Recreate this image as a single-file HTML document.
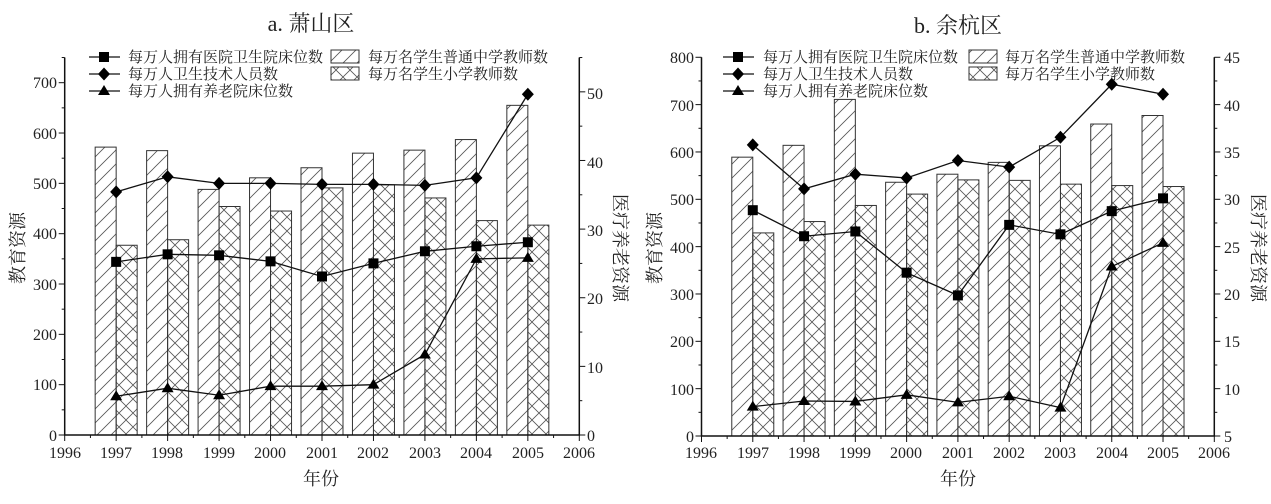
<!DOCTYPE html>
<html><head><meta charset="utf-8"><style>
body{margin:0;background:#fff}
svg text{font-family:"Liberation Serif","Noto Serif CJK SC","Noto Sans CJK SC",serif;fill:#222}
.t{font-size:16px}.c{font-size:15px;font-family:"Noto Serif CJK SC","Noto Sans CJK SC",serif}
</style></head><body>
<svg id="s" width="1271" height="499" xmlns="http://www.w3.org/2000/svg">
<defs>
<pattern id="sl" patternUnits="userSpaceOnUse" width="14" height="14"><path d="M-2,16 L16,-2 M-2,2 L2,-2 M12,16 L16,12" stroke="#555" stroke-width="0.8"/></pattern>
<pattern id="cr" patternUnits="userSpaceOnUse" width="14" height="14"><path d="M0,0 L14,14 M14,0 L0,14" stroke="#555" stroke-width="0.8"/></pattern>
</defs>
<g id="g"></g>
<!-- panel a text -->
<text x="311" y="31" text-anchor="middle" style="font-size:22px">a. 萧山区</text>
<g class="t" text-anchor="end">
<text x="57" y="441">0</text><text x="57" y="390">100</text><text x="57" y="340">200</text><text x="57" y="290">300</text><text x="57" y="239">400</text><text x="57" y="189">500</text><text x="57" y="139">600</text><text x="57" y="88">700</text>
</g>
<g class="t">
<text x="587" y="441">0</text><text x="587" y="373">10</text><text x="587" y="304">20</text><text x="587" y="236">30</text><text x="587" y="168">40</text><text x="587" y="99">50</text>
</g>
<g class="t" text-anchor="middle">
<text x="65" y="458">1996</text><text x="116" y="458">1997</text><text x="167" y="458">1998</text><text x="219" y="458">1999</text><text x="270" y="458">2000</text><text x="322" y="458">2001</text><text x="373" y="458">2002</text><text x="425" y="458">2003</text><text x="476" y="458">2004</text><text x="528" y="458">2005</text><text x="579" y="458">2006</text>
</g>
<text x="321" y="485" text-anchor="middle" style="font-size:18px">年份</text>
<text transform="translate(24,248) rotate(-90)" text-anchor="middle" style="font-size:18px">教育资源</text>
<text transform="translate(614,248) rotate(90)" text-anchor="middle" style="font-size:18px">医疗养老资源</text>
<g class="c"><text x="128" y="62">每万人拥有医院卫生院床位数</text><text x="128" y="79">每万人卫生技术人员数</text><text x="128" y="96">每万人拥有养老院床位数</text>
<text x="368" y="62">每万名学生普通中学教师数</text><text x="368" y="79">每万名学生小学教师数</text></g>
<!-- panel b text -->
<text x="958" y="33" text-anchor="middle" style="font-size:22px">b. 余杭区</text>
<g class="t" text-anchor="end">
<text x="694" y="442">0</text><text x="694" y="395">100</text><text x="694" y="347">200</text><text x="694" y="300">300</text><text x="694" y="253">400</text><text x="694" y="205">500</text><text x="694" y="158">600</text><text x="694" y="111">700</text><text x="694" y="63">800</text>
</g>
<g class="t">
<text x="1224" y="442">5</text><text x="1224" y="395">10</text><text x="1224" y="347">15</text><text x="1224" y="300">20</text><text x="1224" y="253">25</text><text x="1224" y="205">30</text><text x="1224" y="158">35</text><text x="1224" y="111">40</text><text x="1224" y="63">45</text>
</g>
<g class="t" text-anchor="middle">
<text x="701" y="458">1996</text><text x="753" y="458">1997</text><text x="804" y="458">1998</text><text x="855" y="458">1999</text><text x="906" y="458">2000</text><text x="958" y="458">2001</text><text x="1009" y="458">2002</text><text x="1060" y="458">2003</text><text x="1112" y="458">2004</text><text x="1163" y="458">2005</text><text x="1214" y="458">2006</text>
</g>
<text x="958" y="485" text-anchor="middle" style="font-size:18px">年份</text>
<text transform="translate(661,248) rotate(-90)" text-anchor="middle" style="font-size:18px">教育资源</text>
<text transform="translate(1252,248) rotate(90)" text-anchor="middle" style="font-size:18px">医疗养老资源</text>
<g class="c"><text x="763" y="62">每万人拥有医院卫生院床位数</text><text x="763" y="79">每万人卫生技术人员数</text><text x="763" y="96">每万人拥有养老院床位数</text>
<text x="1005" y="62">每万名学生普通中学教师数</text><text x="1005" y="79">每万名学生小学教师数</text></g>
</svg>
<script>
var g=document.getElementById('g'),N='http://www.w3.org/2000/svg';
function el(t,a){var e=document.createElementNS(N,t);for(var k in a)e.setAttribute(k,a[k]);g.appendChild(e);return e;}
function panel(p){
 var X=function(yr){return p.x0+(yr-1996)*(p.x1-p.x0)/10},Y=function(v){return p.y0-v*p.sc};
 for(var i=0;i<9;i++){var x=X(1997+i);
  el('rect',{x:x-21,y:Y(p.sl[i]),width:21,height:p.y0-Y(p.sl[i]),fill:'url(#sl)',stroke:'#333','stroke-width':1});
  el('rect',{x:x,y:Y(p.cr[i]),width:21,height:p.y0-Y(p.cr[i]),fill:'url(#cr)',stroke:'#333','stroke-width':1});}
 var top=Y(p.max);
 el('path',{d:'M'+p.x0+','+top+'V'+p.y0+'H'+p.x1+'V'+top,fill:'none',stroke:'#111','stroke-width':1.5});
 for(var v=0;v<=p.max;v+=50){var y=Y(v);el('line',{x1:p.x0,x2:p.x0-(v%100?3:6),y1:y,y2:y,stroke:'#111'});}
 for(var k=0;k<=p.rn;k++){var y=p.y0-k*(p.y0-top)/p.rn;el('line',{x1:p.x1,x2:p.x1+(k%2?3:6),y1:y,y2:y,stroke:'#111'});}
 for(var yr=1996;yr<=2006;yr+=0.5){var x=X(yr);el('line',{x1:x,x2:x,y1:p.y0,y2:p.y0+(yr%1?3:6),stroke:'#111'});}
 [[p.sq,'s'],[p.di,'d'],[p.tr,'t']].forEach(function(s){
  var d='';s[0].forEach(function(v,i){d+=(i?'L':'M')+X(1997+i)+','+Y(v)});
  el('path',{d:d,fill:'none',stroke:'#111','stroke-width':1.3});
  s[0].forEach(function(v,i){mk(s[1],X(1997+i),Y(v))});});
 var ly=[57,74,91],mt=['s','d','t'];
 for(var j=0;j<3;j++){el('line',{x1:p.lx,x2:p.lx+31,y1:ly[j],y2:ly[j],stroke:'#111','stroke-width':1.3});mk(mt[j],p.lx+15,ly[j]);}
 el('rect',{x:p.bx,y:50,width:28,height:13,fill:'url(#sl)',stroke:'#333'});
 el('rect',{x:p.bx,y:67,width:28,height:13,fill:'url(#cr)',stroke:'#333'});
}
function mk(t,x,y){
 if(t=='s')el('rect',{x:x-5,y:y-5,width:10,height:10,fill:'#000'});
 else if(t=='d')el('path',{d:'M'+x+','+(y-6.5)+'l6,6.5l-6,6.5l-6,-6.5z',fill:'#000'});
 else el('path',{d:'M'+x+','+(y-6)+'l6,10h-12z',fill:'#000'});
}
panel({x0:64.7,x1:579.3,y0:435,sc:0.5033,max:750,rn:11,lx:89,bx:331,
 sl:[572,565,488,511,531,560,566,587,655],cr:[377,388,454,445,491,497,471,426,417],
 sq:[344,359,357,345,315,341,365,375,383],di:[483,513,500,500,498,498,496,511,677],tr:[77,93,79,97,97,100,160,350,352]});
panel({x0:701.5,x1:1214.3,y0:436,sc:0.4734,max:800,rn:16,lx:723,bx:969,
 sl:[589,614,711,536,553,578,613,659,677],cr:[429,453,487,511,541,540,532,529,527],
 sq:[477,422,432,345,297,446,426,475,502],di:[615,522,553,545,582,568,631,743,722],tr:[62,74,73,87,71,84,60,358,408]});
</script>
</body></html>
